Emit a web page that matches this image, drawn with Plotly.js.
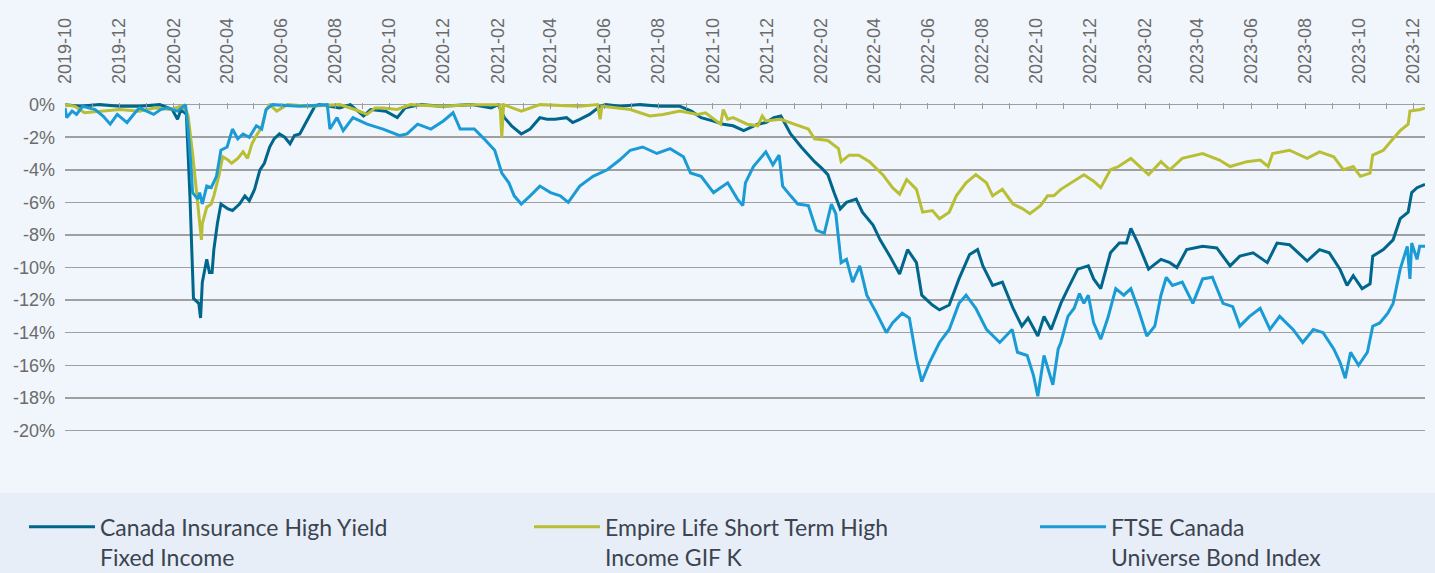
<!DOCTYPE html>
<html>
<head>
<meta charset="utf-8">
<script src="https://cdn.plot.ly/plotly-3.0.1.min.js"></script>
<style>
  html, body { margin: 0; padding: 0; background: #f1f6fc; }
  #chart { width: 1435px; height: 573px; }
</style>
</head>
<body>
<div id="chart"></div>
<script>
// ---- Series names ----
const seriesNames = [
  "Canada Insurance High Yield<br>Fixed Income",
  "Empire Life Short Term High<br>Income GIF K",
  "FTSE Canada<br>Universe Bond Index"
];

// ---- Canada Insurance High Yield Fixed Income (drawdown %) ----
const ciDates = ["2019-10-01","2019-10-18","2019-11-09","2019-12-02","2019-12-24","2020-01-16","2020-01-30","2020-02-05","2020-02-09","2020-02-15","2020-02-19","2020-02-23","2020-02-29","2020-03-02","2020-03-04","2020-03-07","2020-03-09","2020-03-12","2020-03-15","2020-03-17","2020-03-21","2020-03-25","2020-04-02","2020-04-07","2020-04-15","2020-04-21","2020-04-26","2020-05-02","2020-05-08","2020-05-13","2020-05-19","2020-05-24","2020-05-30","2020-06-05","2020-06-11","2020-06-16","2020-06-22","2020-06-27","2020-07-03","2020-07-09","2020-07-14","2020-08-06","2020-08-18","2020-09-02","2020-09-10","2020-09-27","2020-10-10","2020-10-19","2020-11-06","2020-11-28","2021-01-02","2021-01-24","2021-02-01","2021-02-08","2021-02-16","2021-02-27","2021-03-09","2021-03-20","2021-03-28","2021-04-06","2021-04-19","2021-04-26","2021-05-04","2021-05-15","2021-05-27","2021-06-02","2021-06-19","2021-07-11","2021-08-03","2021-08-25","2021-09-07","2021-09-18","2021-10-01","2021-10-13","2021-10-24","2021-11-05","2021-11-13","2021-11-21","2021-11-30","2021-12-09","2021-12-17","2021-12-28","2022-01-09","2022-01-17","2022-01-24","2022-02-01","2022-02-08","2022-02-15","2022-02-22","2022-03-01","2022-03-12","2022-03-19","2022-03-31","2022-04-08","2022-04-19","2022-04-30","2022-05-09","2022-05-19","2022-05-25","2022-06-06","2022-06-14","2022-06-25","2022-07-06","2022-07-18","2022-07-27","2022-08-02","2022-08-13","2022-08-24","2022-09-05","2022-09-15","2022-09-22","2022-10-03","2022-10-10","2022-10-18","2022-10-29","2022-11-06","2022-11-17","2022-11-29","2022-12-05","2022-12-13","2022-12-24","2023-01-03","2023-01-11","2023-01-16","2023-01-24","2023-02-05","2023-02-19","2023-03-01","2023-03-09","2023-03-20","2023-04-07","2023-04-23","2023-05-08","2023-05-19","2023-06-03","2023-06-19","2023-06-30","2023-07-14","2023-08-03","2023-08-17","2023-08-28","2023-09-09","2023-09-17","2023-09-24","2023-10-04","2023-10-13","2023-10-16","2023-10-28","2023-11-08","2023-11-16","2023-11-25","2023-11-29","2023-12-05","2023-12-14"];
const ciValues = [0,-0.1,0,-0.1,-0.1,0,-0.3,-0.9,-0.3,-0.6,-5.6,-11.9,-12.2,-13.1,-10.9,-10.1,-9.5,-10.3,-10.3,-8.9,-7.3,-6.1,-6.4,-6.5,-6.1,-5.6,-5.9,-5.2,-4.0,-3.6,-2.6,-2.1,-1.8,-2.0,-2.4,-1.9,-1.8,-1.3,-0.7,-0.1,0,-0.2,0,-0.7,-0.3,-0.4,-0.8,-0.2,0,-0.1,0,-0.2,0,-0.8,-1.3,-1.8,-1.5,-0.8,-0.9,-0.9,-0.8,-1.1,-0.9,-0.6,-0.1,0,-0.1,0,-0.1,-0.1,-0.4,-0.8,-1.0,-1.2,-1.3,-1.6,-1.4,-1.2,-1.1,-0.8,-0.7,-1.8,-2.6,-3.1,-3.5,-3.9,-4.3,-5.4,-6.4,-6.0,-5.8,-6.6,-7.4,-8.3,-9.3,-10.4,-8.9,-9.7,-11.7,-12.3,-12.6,-12.3,-10.7,-9.2,-8.9,-9.9,-11.1,-10.9,-12.5,-13.6,-13.1,-14.2,-13.0,-13.8,-12.2,-11.3,-10.1,-9.9,-10.7,-11.3,-9.1,-8.5,-8.5,-7.6,-8.5,-10.1,-9.5,-9.7,-10.0,-8.9,-8.7,-8.8,-9.9,-9.3,-9.1,-9.7,-8.5,-8.6,-9.6,-8.9,-9.1,-10.1,-11.1,-10.5,-11.3,-11.0,-9.3,-8.9,-8.3,-7.0,-6.6,-5.4,-5.1,-4.9];

// ---- Empire Life Short Term High Income GIF K (drawdown %) ----
const elDates = ["2019-10-01","2019-10-12","2019-10-23","2019-11-09","2019-12-02","2019-12-24","2020-01-11","2020-01-28","2020-02-09","2020-02-15","2020-02-17","2020-02-22","2020-02-25","2020-02-27","2020-03-01","2020-03-03","2020-03-04","2020-03-09","2020-03-14","2020-03-17","2020-03-23","2020-03-27","2020-04-02","2020-04-06","2020-04-13","2020-04-19","2020-04-24","2020-04-29","2020-05-04","2020-05-10","2020-05-15","2020-05-19","2020-05-27","2020-06-08","2020-07-03","2020-08-06","2020-08-23","2020-09-06","2020-09-15","2020-09-24","2020-10-10","2020-10-25","2020-11-28","2021-01-02","2021-02-03","2021-02-05","2021-02-07","2021-02-27","2021-03-20","2021-05-04","2021-05-24","2021-05-27","2021-05-29","2021-06-30","2021-07-22","2021-08-06","2021-08-25","2021-09-14","2021-09-23","2021-10-02","2021-10-10","2021-10-13","2021-10-18","2021-10-24","2021-11-09","2021-11-21","2021-11-26","2021-11-30","2021-12-17","2022-01-01","2022-01-17","2022-01-24","2022-02-08","2022-02-20","2022-02-23","2022-03-04","2022-03-15","2022-03-27","2022-04-11","2022-04-22","2022-04-30","2022-05-08","2022-05-19","2022-05-26","2022-06-06","2022-06-14","2022-06-25","2022-07-03","2022-07-14","2022-07-25","2022-08-06","2022-08-13","2022-08-24","2022-09-05","2022-09-16","2022-09-24","2022-10-06","2022-10-14","2022-10-21","2022-10-29","2022-11-09","2022-11-24","2022-12-05","2022-12-13","2022-12-24","2023-01-02","2023-01-16","2023-01-28","2023-02-05","2023-02-19","2023-03-01","2023-03-15","2023-04-07","2023-04-26","2023-05-08","2023-05-27","2023-06-11","2023-06-20","2023-06-25","2023-07-14","2023-08-03","2023-08-17","2023-09-02","2023-09-13","2023-09-24","2023-10-02","2023-10-13","2023-10-16","2023-10-28","2023-11-08","2023-11-16","2023-11-25","2023-11-27","2023-12-09","2023-12-14"];
const elValues = [0,-0.1,-0.5,-0.4,-0.3,-0.4,-0.2,-0.3,-0.1,-0.4,-0.7,-3.0,-4.6,-5.6,-7.4,-8.3,-7.3,-6.3,-6.1,-5.6,-4.3,-3.2,-3.4,-3.6,-3.3,-2.9,-3.3,-2.4,-1.9,-1.4,-0.3,0,-0.4,0,-0.1,0,-0.3,-0.6,-0.2,-0.2,-0.3,0,-0.1,0,0,-2.0,0,-0.4,0,-0.1,0,-0.9,-0.1,-0.3,-0.7,-0.6,-0.4,-0.6,-0.5,-0.9,-1.2,-0.3,-0.9,-0.8,-1.2,-1.3,-0.7,-1.0,-0.9,-1.2,-1.5,-2.1,-2.2,-2.7,-3.5,-3.1,-3.1,-3.5,-4.3,-5.1,-5.5,-4.6,-5.2,-6.6,-6.5,-7.0,-6.6,-5.6,-4.8,-4.3,-4.8,-5.6,-5.2,-6.1,-6.4,-6.7,-6.2,-5.6,-5.6,-5.2,-4.8,-4.3,-4.7,-5.1,-4.0,-3.8,-3.3,-3.9,-4.3,-3.5,-4.0,-3.3,-3.0,-3.4,-3.8,-3.5,-3.4,-3.8,-3.0,-2.8,-3.3,-2.9,-3.2,-4.0,-3.8,-4.4,-4.2,-3.1,-2.8,-2.1,-1.6,-1.2,-0.4,-0.3,-0.2];

// ---- FTSE Canada Universe Bond Index (drawdown %) ----
const ftDates = ["2019-10-01","2019-10-03","2019-10-09","2019-10-14","2019-10-21","2019-11-04","2019-11-13","2019-11-21","2019-11-29","2019-12-10","2019-12-19","2019-12-24","2020-01-09","2020-01-17","2020-01-24","2020-02-05","2020-02-14","2020-02-17","2020-02-20","2020-02-22","2020-02-28","2020-03-01","2020-03-04","2020-03-09","2020-03-14","2020-03-20","2020-03-25","2020-04-01","2020-04-07","2020-04-13","2020-04-19","2020-04-26","2020-05-04","2020-05-10","2020-05-15","2020-05-22","2020-06-22","2020-07-23","2020-07-26","2020-08-03","2020-08-10","2020-08-21","2020-09-06","2020-09-24","2020-10-13","2020-10-21","2020-11-02","2020-11-17","2020-12-01","2020-12-12","2020-12-20","2021-01-05","2021-01-16","2021-01-28","2021-02-05","2021-02-13","2021-02-19","2021-02-27","2021-03-09","2021-03-20","2021-04-01","2021-04-12","2021-04-21","2021-05-04","2021-05-19","2021-06-04","2021-06-18","2021-06-30","2021-07-14","2021-07-30","2021-08-14","2021-08-29","2021-09-06","2021-09-18","2021-10-02","2021-10-18","2021-10-29","2021-11-04","2021-11-07","2021-11-16","2021-11-30","2021-12-08","2021-12-15","2021-12-19","2021-12-28","2022-01-05","2022-01-17","2022-01-26","2022-02-04","2022-02-12","2022-02-17","2022-02-23","2022-03-01","2022-03-08","2022-03-16","2022-03-24","2022-04-04","2022-04-15","2022-04-22","2022-05-03","2022-05-11","2022-05-19","2022-05-25","2022-06-03","2022-06-14","2022-06-25","2022-07-06","2022-07-14","2022-07-25","2022-08-06","2022-08-21","2022-09-04","2022-09-10","2022-09-21","2022-09-28","2022-10-03","2022-10-10","2022-10-20","2022-10-26","2022-10-29","2022-11-06","2022-11-13","2022-11-19","2022-11-24","2022-11-29","2022-12-05","2022-12-13","2022-12-21","2022-12-30","2023-01-08","2023-01-16","2023-01-24","2023-02-03","2023-02-12","2023-02-19","2023-02-25","2023-03-04","2023-03-15","2023-03-27","2023-04-07","2023-04-18","2023-04-30","2023-05-11","2023-05-19","2023-05-30","2023-06-11","2023-06-22","2023-07-03","2023-07-18","2023-07-29","2023-08-10","2023-08-21","2023-09-02","2023-09-09","2023-09-15","2023-09-21","2023-09-30","2023-10-10","2023-10-16","2023-10-24","2023-11-02","2023-11-08","2023-11-16","2023-11-24","2023-11-27","2023-11-29","2023-12-05","2023-12-08","2023-12-14"];
const ftValues = [-0.2,-0.8,-0.4,-0.6,-0.1,-0.3,-0.7,-1.2,-0.6,-1.1,-0.5,-0.2,-0.6,-0.3,-0.2,-0.4,0,-1.5,-3.6,-5.4,-5.8,-5.4,-6.1,-5.0,-5.1,-4.4,-2.8,-2.6,-1.5,-2.1,-1.8,-2.0,-1.3,-1.5,-0.3,0,-0.1,0,-1.5,-0.8,-1.6,-0.8,-1.2,-1.5,-1.9,-1.8,-1.2,-1.5,-1.0,-0.5,-1.5,-1.5,-2.1,-2.8,-4.2,-4.8,-5.6,-6.1,-5.6,-5.0,-5.4,-5.6,-6.0,-5.0,-4.4,-4.0,-3.4,-2.8,-2.6,-3.0,-2.7,-3.2,-4.2,-4.4,-5.4,-4.8,-5.8,-6.2,-4.8,-3.8,-2.9,-3.7,-3.1,-5.0,-5.6,-6.1,-6.2,-7.7,-7.9,-6.1,-6.7,-9.7,-9.5,-10.9,-9.9,-11.7,-12.8,-14.0,-13.4,-12.8,-13.1,-15.6,-17.0,-15.8,-14.6,-13.8,-12.2,-11.7,-12.5,-13.8,-14.6,-13.8,-15.2,-15.4,-16.6,-17.9,-15.4,-17.2,-15.0,-14.6,-13.0,-12.5,-11.6,-12.2,-11.7,-13.4,-14.4,-13.1,-11.3,-11.7,-11.3,-12.5,-14.2,-13.6,-11.7,-10.6,-11.1,-10.9,-12.2,-10.7,-10.6,-12.2,-12.4,-13.6,-13.0,-12.5,-13.8,-13.0,-13.8,-14.6,-13.8,-14.0,-15.0,-15.8,-16.8,-15.2,-16.0,-15.2,-13.6,-13.4,-12.8,-12.2,-10.1,-8.7,-10.7,-8.5,-9.5,-8.7,-8.7];

// ---- Axis ticks ----
const yTickVals = [0,-2,-4,-6,-8,-10,-12,-14,-16,-18,-20];
const yTickText = ["0%","-2%","-4%","-6%","-8%","-10%","-12%","-14%","-16%","-18%","-20%"];
const xRange = ["2019-10-01","2023-12-14"];

const colors = ["#00668c", "#b9bf34", "#1a9bd5"];
const legendIds = ["legend", "legend2", "legend3"];

const traces = [
  {x: ciDates, y: ciValues, name: seriesNames[0]},
  {x: elDates, y: elValues, name: seriesNames[1]},
  {x: ftDates, y: ftValues, name: seriesNames[2]}
].map((t, i) => Object.assign(t, {
  type: "scatter", mode: "lines",
  line: {color: colors[i], width: 3},
  legend: legendIds[i],
  hoverinfo: "x+y"
}));

const W = 1435, H = 573;
const L = 65, R = 10, T = 103, B = 110;
const pw = W - L - R, ph = H - T - B;

function legendAt(px) {
  return {
    orientation: "h",
    xref: "container", yref: "container",
    x: px / W, y: 0.118,
    xanchor: "left", yanchor: "top",
    itemwidth: 66,
    valign: "top",
    bgcolor: "rgba(0,0,0,0)",
    font: {family: "Lato, Noto Sans, sans-serif", size: 23, color: "#3b4450"},
    itemclick: false, itemdoubleclick: false
  };
}

const layout = {
  width: W, height: H,
  margin: {l: L, r: R, t: T, b: B, pad: 0},
  paper_bgcolor: "#f1f6fc",
  plot_bgcolor: "#f1f6fc",
  font: {family: "Liberation Sans, Arial, sans-serif", color: "#6b6b6b", size: 18},
  showlegend: true,
  xaxis: {
    type: "date",
    side: "top",
    range: xRange,
    tick0: "2019-10-01",
    dtick: "M2",
    tickformat: "%Y-%m",
    tickangle: -90,
    ticks: "inside",
    ticklen: 6,
    tickcolor: "#9a9a9a",
    tickwidth: 1,
    minor: {dtick: "M1", ticks: "inside", ticklen: 6, tickcolor: "#9a9a9a", showgrid: false},
    ticklabelstandoff: 18,
    showgrid: false,
    showline: false,
    zeroline: false,
    tickfont: {size: 18, color: "#6b6b6b"}
  },
  yaxis: {
    range: [-22, 0.1],
    tickvals: yTickVals,
    ticktext: yTickText,
    showgrid: true,
    gridcolor: "#a0a0a0",
    gridwidth: 1.5,
    zeroline: false,
    showline: false,
    ticks: "",
    ticklabelstandoff: 9,
    tickfont: {size: 18, color: "#6b6b6b"}
  },
  legend: legendAt(24),
  legend2: legendAt(529),
  legend3: legendAt(1035),
  shapes: [{
    type: "rect", xref: "paper", yref: "paper", layer: "below",
    x0: -L / pw, x1: (W - L) / pw,
    y0: -(493 - (T + ph)) / ph,
    y1: -(H - (T + ph)) / ph,
    fillcolor: "#e7eef8", line: {width: 0}
  }]
};

Plotly.newPlot("chart", traces, layout, {staticPlot: true, displayModeBar: false});
</script>
</body>
</html>
